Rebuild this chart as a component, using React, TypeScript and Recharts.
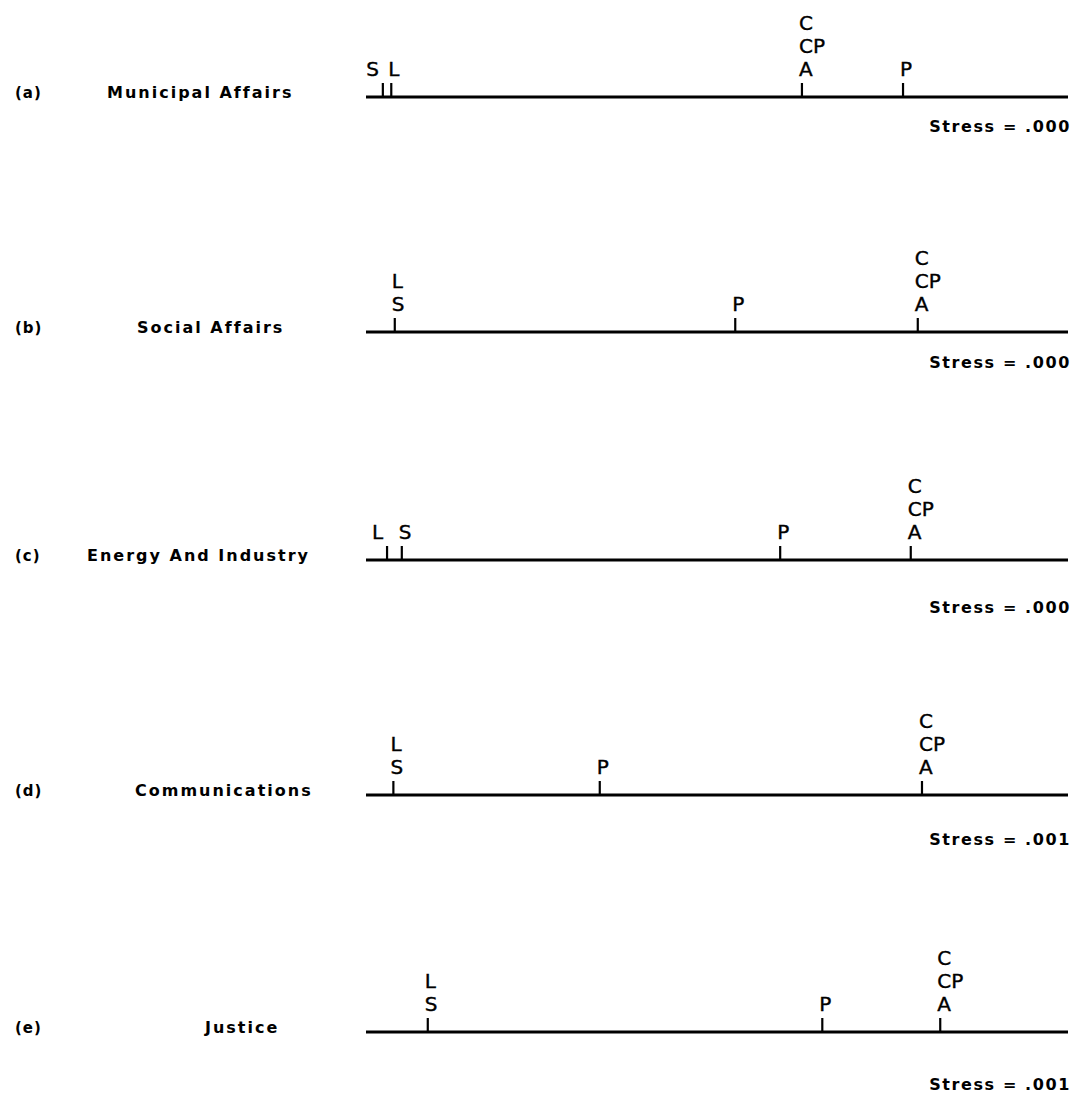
import React from 'react'
import { ScatterChart, Scatter, XAxis, YAxis, ReferenceLine } from 'recharts'

// one-dimensional scaling solutions, positions on a 0-100 scale
type Pt = { x: number, labels: string[] }

const panelKeys = ['(a)', '(b)', '(c)', '(d)', '(e)']
const panelNames = ['Municipal Affairs', 'Social Affairs', 'Energy And Industry', 'Communications', 'Justice']
const stressValues = ['.000', '.000', '.000', '.001', '.001']

const municipalPoints: Pt[] = [
  { x: 2.4, labels: ['S'] },
  { x: 3.6, labels: ['L'] },
  { x: 62.1, labels: ['A', 'CP', 'C'] },
  { x: 76.5, labels: ['P'] },
]
const socialPoints: Pt[] = [
  { x: 4.1, labels: ['S', 'L'] },
  { x: 52.6, labels: ['P'] },
  { x: 78.6, labels: ['A', 'CP', 'C'] },
]
const energyPoints: Pt[] = [
  { x: 3.0, labels: ['L'] },
  { x: 5.1, labels: ['S'] },
  { x: 59.0, labels: ['P'] },
  { x: 77.6, labels: ['A', 'CP', 'C'] },
]
const communicationsPoints: Pt[] = [
  { x: 3.9, labels: ['S', 'L'] },
  { x: 33.3, labels: ['P'] },
  { x: 79.2, labels: ['A', 'CP', 'C'] },
]
const justicePoints: Pt[] = [
  { x: 8.8, labels: ['S', 'L'] },
  { x: 65.0, labels: ['P'] },
  { x: 81.8, labels: ['A', 'CP', 'C'] },
]

const allPoints = [municipalPoints, socialPoints, energyPoints, communicationsPoints, justicePoints]

// layout only
const baselines = [96, 331, 559, 794, 1031]
const stressOffsets = [31, 32, 49, 46, 54]
const nameLeft = [107, 137, 87, 135, 205]

const FONT = '"DejaVu Sans", sans-serif'
const TOP = 100

function PointMark(props: any) {
  const { cx, cy, payload, points } = props
  const idx = points.findIndex((p: Pt) => p.x === payload.x)
  const next = points[idx + 1]
  const crowded = next && next.x - payload.x < 3
  return (
    <g>
      <line x1={cx} y1={cy} x2={cx} y2={cy - 14} stroke="#000" strokeWidth={2.2} />
      {payload.labels.map((l: string, i: number) => (
        <text
          key={i}
          x={crowded ? cx - 4 : cx - 3}
          y={cy - 21 - i * 23}
          textAnchor={crowded ? 'end' : 'start'}
          fontFamily={FONT}
          fontSize={20}
          stroke="#000"
          strokeWidth={0.4}
          fill="#000"
        >
          {l}
        </text>
      ))}
    </g>
  )
}

function Panel({ i }: { i: number }) {
  const data = allPoints[i].map((p) => ({ ...p, y: 0 }))
  const base = baselines[i]
  const textStyle: React.CSSProperties = { position: 'absolute', fontFamily: FONT, fontWeight: 600, whiteSpace: 'nowrap' }
  return (
    <>
      <div style={{ position: 'absolute', left: 0, top: base - TOP }}>
        <ScatterChart width={1076} height={200} margin={{ top: TOP, right: 8, bottom: 99, left: 366 }}>
          <XAxis type="number" dataKey="x" domain={[0, 100]} hide />
          <YAxis type="number" dataKey="y" domain={[0, 1]} hide />
          <ReferenceLine y={0} stroke="#000" strokeWidth={2.8} />
          <Scatter
            data={data}
            isAnimationActive={false}
            shape={(p: any) => <PointMark {...p} points={allPoints[i]} />}
          />
        </ScatterChart>
      </div>
      <div style={{ ...textStyle, left: 15, top: base - 12, fontSize: 15, letterSpacing: 1 }}>
        {panelKeys[i]}
      </div>
      <div style={{ ...textStyle, left: nameLeft[i], top: base - 13, fontSize: 16, letterSpacing: 2 }}>
        {panelNames[i]}
      </div>
      <div style={{ ...textStyle, right: 5, top: base + stressOffsets[i] - 10, fontSize: 16, letterSpacing: 1.6 }}>
        Stress = {stressValues[i]}
      </div>
    </>
  )
}

export default function App() {
  return (
    <div style={{ position: 'absolute', left: 0, top: 0, width: 1076, height: 1093, background: '#fff', color: '#000' }}>
      {panelKeys.map((_, i) => <Panel key={i} i={i} />)}
    </div>
  )
}
